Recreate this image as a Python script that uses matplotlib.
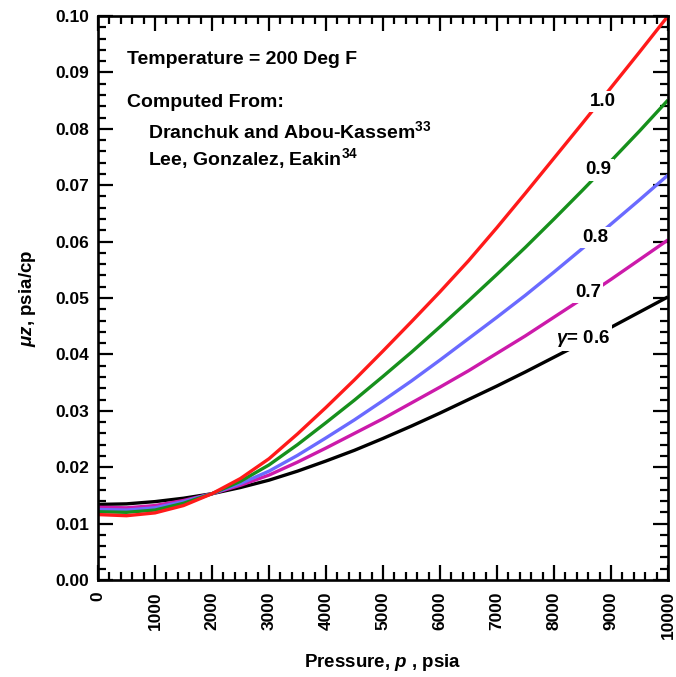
import matplotlib
matplotlib.use('Agg')
import matplotlib.pyplot as plt
from matplotlib.ticker import MultipleLocator, FormatStrFormatter

plt.rcParams['font.family'] = 'Liberation Sans'
plt.rcParams['font.weight'] = 'bold'
plt.rcParams['mathtext.fontset'] = 'custom'
plt.rcParams['mathtext.rm'] = 'Liberation Sans:bold'
plt.rcParams['mathtext.it'] = 'Liberation Sans:italic:bold'
plt.rcParams['mathtext.bf'] = 'Liberation Sans:bold'

# Pressure, psia
pressure = [0, 500, 1000, 1500, 2000, 2500, 3000, 3500, 4000, 4500, 5000,
            5500, 6000, 6500, 7000, 7500, 8000, 8500, 9000, 9500, 10000]

# mu*z, psia/cp, for each gas gravity
muz_06 = [0.0134, 0.0135, 0.0139, 0.0145, 0.0153, 0.0164, 0.0177, 0.0193, 0.0211, 0.0230, 0.0251,
          0.0273, 0.0296, 0.0320, 0.0344, 0.0369, 0.0395, 0.0421, 0.0448, 0.0475, 0.0502]
muz_07 = [0.0129, 0.0128, 0.0132, 0.0141, 0.0153, 0.0168, 0.0186, 0.0209, 0.0234, 0.0260, 0.0286,
          0.0314, 0.0342, 0.0371, 0.0402, 0.0433, 0.0466, 0.0499, 0.0533, 0.0568, 0.0603]
muz_08 = [0.0125, 0.0124, 0.0128, 0.0139, 0.0153, 0.0171, 0.0193, 0.0221, 0.0252, 0.0284, 0.0318,
          0.0353, 0.0390, 0.0428, 0.0466, 0.0505, 0.0546, 0.0588, 0.0631, 0.0674, 0.0718]
muz_09 = [0.0121, 0.0120, 0.0124, 0.0136, 0.0153, 0.0175, 0.0204, 0.0240, 0.0279, 0.0319, 0.0361,
          0.0404, 0.0449, 0.0495, 0.0542, 0.0590, 0.0640, 0.0691, 0.0743, 0.0796, 0.0851]
muz_10 = [0.0116, 0.0114, 0.0119, 0.0132, 0.0153, 0.0180, 0.0215, 0.0259, 0.0306, 0.0355, 0.0406,
          0.0458, 0.0511, 0.0566, 0.0625, 0.0686, 0.0748, 0.0810, 0.0873, 0.0936, 0.1000]

series = [muz_06, muz_07, muz_08, muz_09, muz_10]
colors = ['black', '#cc1aaa', '#6a6aff', '#16901c', '#ff1a1a']

# curve labels: text, pressure, value
curve_labels = [(r'$\gamma$= 0.6', 8500, 0.0429),
                ('0.7', 8600, 0.0509),
                ('0.8', 8720, 0.0608),
                ('0.9', 8780, 0.0727),
                ('1.0', 8860, 0.0849)]

fig = plt.figure(figsize=(6.76, 6.77), dpi=100)
ax = fig.add_axes([98 / 676, 97 / 677, 570 / 676, 564 / 677])

for vals, c in zip(series, colors):
    ax.plot(pressure, vals, color=c, linewidth=2.4, solid_capstyle='butt', zorder=2)

for txt, px, py in curve_labels:
    ax.text(px, py, txt, fontsize=13.5, fontweight='bold', ha='center', va='center', zorder=3,
            bbox=dict(facecolor='white', edgecolor='none', pad=1.5))

notes = [('Temperature = 200 Deg F', 0.051, 0.922),
         ('Computed From:', 0.051, 0.846),
         (r'Dranchuk and Abou-Kassem$^{33}$', 0.088, 0.796),
         (r'Lee, Gonzalez, Eakin$^{34}$', 0.088, 0.748)]
for txt, x, y in notes:
    ax.text(x, y, txt, transform=ax.transAxes, fontsize=14, fontweight='bold', va='center')

ax.set_xlim(0, 10000)
ax.set_ylim(0, 0.10)
ax.xaxis.set_major_locator(MultipleLocator(1000))
ax.xaxis.set_minor_locator(MultipleLocator(200))
ax.yaxis.set_major_locator(MultipleLocator(0.01))
ax.yaxis.set_minor_locator(MultipleLocator(0.002))
ax.yaxis.set_major_formatter(FormatStrFormatter('%.2f'))

ax.tick_params(which='both', direction='in', top=True, right=True, width=1.6, labelsize=12.5)
ax.tick_params(which='major', length=11)
ax.tick_params(which='minor', length=5.5)
ax.tick_params(axis='y', pad=6.5)
ax.tick_params(axis='x', pad=8)
for lab in ax.get_xticklabels():
    lab.set_rotation(90)
for s in ax.spines.values():
    s.set_linewidth(1.9)

ax.set_xlabel(r'Pressure, $p$ , psia', fontsize=13.5, fontweight='bold')
ax.xaxis.set_label_coords(0.5, -0.147)
ax.xaxis.label.set_va('center')
ax.set_ylabel(r'$\mu z$, psia/cp', fontsize=13.5, fontweight='bold')
ax.yaxis.set_label_coords(-0.123, 0.5)
ax.yaxis.label.set_va('center')

fig.savefig('out.png', dpi=100)
